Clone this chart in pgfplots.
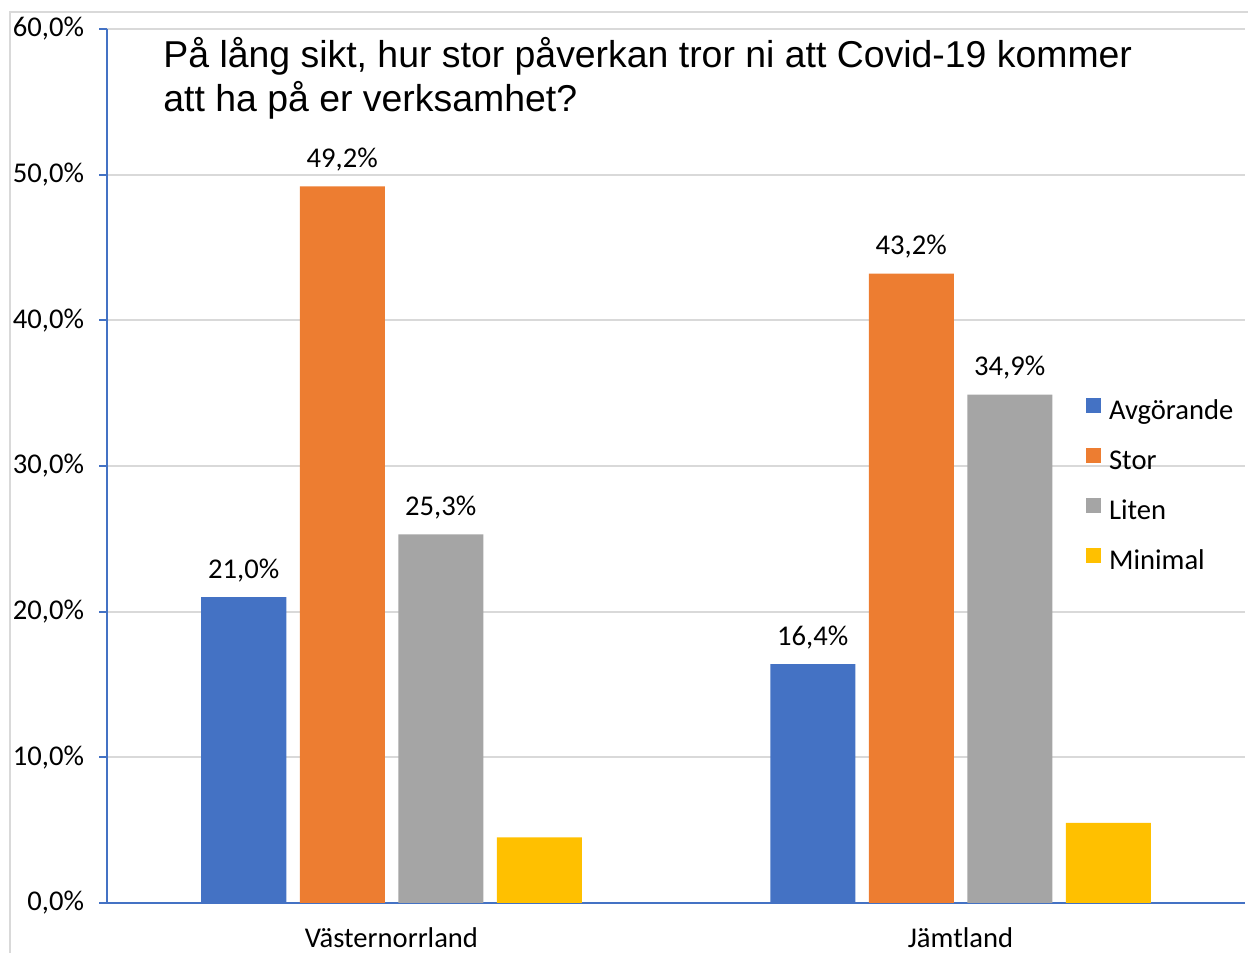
\documentclass[border=0pt]{standalone}
\usepackage{fontspec}
\setmainfont{Carlito}
\newfontfamily\arial{Liberation Sans}
\usepackage{pgfplots}
\pgfplotsset{compat=1.18}

\definecolor{cBlue}{HTML}{4472C4}
\definecolor{cOrange}{HTML}{ED7D31}
\definecolor{cGray}{HTML}{A5A5A5}
\definecolor{cYellow}{HTML}{FFC000}
\definecolor{cGrid}{HTML}{D9D9D9}

\begin{document}
\begin{tikzpicture}
% 1 px of the reference = 0.5pt
\useasboundingbox (0,0) rectangle (624pt,476.5pt);
\draw[cGrid, line width=1pt] (5pt,0) -- (5pt,470.5pt) -- (624pt,470.5pt);

\begin{axis}[
    at={(53.5pt,25pt)},
    anchor=south west,
    scale only axis,
    width=569pt,
    height=437pt,
    ybar=6.75pt,
    bar width=42.5pt,
    xmin=-0.5, xmax=1.5,
    ymin=0, ymax=60,
    xtick={0,1},
    xticklabels={Västernorrland, Jämtland},
    ytick={0,10,20,30,40,50,60},
    yticklabel={\pgfmathprintnumber[fixed,fixed zerofill,precision=1,use comma,assume math mode=true]{\tick}\%},
    axis lines=left,
    axis line style={-, cBlue, line width=1pt},
    tick align=outside,
    major tick length=4pt,
    ytick style={cBlue, line width=1pt},
    xtick style={draw=none},
    ymajorgrids,
    grid style={cGrid, line width=1pt},
    tick label style={font=\fontsize{14.3}{16}\selectfont, black},
    yticklabel style={anchor=east, xshift=-4pt},
    xticklabel style={anchor=base, yshift=-18.5pt},
    legend style={draw=none, fill=none, at={(0.860,0.578)}, anchor=north west,
        inner sep=0pt, row sep=11.5pt, column sep=4pt,
        font=\fontsize{14.3}{16}\selectfont,
        nodes={inner sep=0pt, text height=9pt, text depth=3pt}},
    legend cell align=left,
    legend image code/.code={\fill[#1] (0pt,0pt) rectangle (7.5pt,7.5pt);},
    nodes near coords={\pgfmathprintnumber[fixed,fixed zerofill,precision=1,use comma,assume math mode=true]{\pgfplotspointmeta}\%},
    every node near coord/.append style={font=\fontsize{14.3}{16}\selectfont, black, anchor=base, yshift=9.5pt},
]
    \addplot[fill=cBlue, draw=none] coordinates {(0,21.0) (1,16.4)};
    \addlegendentry{Avgörande}
    \addplot[fill=cOrange, draw=none] coordinates {(0,49.2) (1,43.2)};
    \addlegendentry{Stor}
    \addplot[fill=cGray, draw=none] coordinates {(0,25.3) (1,34.9)};
    \addlegendentry{Liten}
    \addplot[fill=cYellow, draw=none, nodes near coords={}] coordinates {(0,4.5) (1,5.5)};
    \addlegendentry{Minimal}
\end{axis}

\node[anchor=base west, inner sep=0pt, align=left, font=\arial\fontsize{18.7}{22}\selectfont]
    at (81.5pt,420.5pt) {På lång sikt, hur stor påverkan tror ni att Covid-19 kommer\\att ha på er verksamhet?};
\end{tikzpicture}
\end{document}
